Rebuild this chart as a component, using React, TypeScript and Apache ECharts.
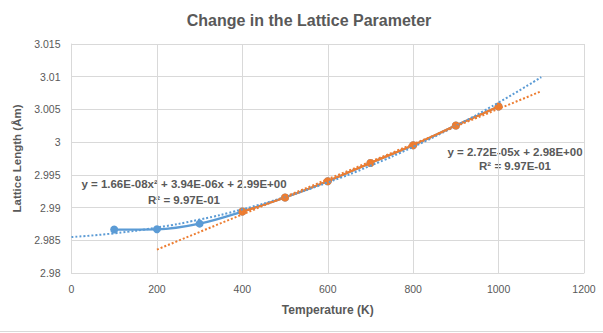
import React, { useEffect, useRef } from "react";
import * as echarts from "echarts";

// Data
const temperatures = [100, 200, 300, 400, 500, 600, 700, 800, 900, 1000];
const latticeAll = [2.98664, 2.98668, 2.98755, 2.98939, 2.99153, 2.99402, 2.99682, 2.99953, 3.00254, 3.00544];
const highTemps = [400, 500, 600, 700, 800, 900, 1000];
const latticeHigh = [2.98939, 2.99153, 2.99402, 2.99682, 2.99953, 3.00254, 3.00544];

// Trendlines
const polyTrendX = [0, 100, 200, 300, 400, 500, 600, 700, 800, 900, 1000, 1100];
const polyTrendY = [2.9855, 2.98606, 2.98695, 2.98817, 2.98973, 2.99162, 2.99384, 2.99639, 2.99928, 3.0025, 3.00605, 3.00993];
const linTrendX = [200, 1100];
const linTrendY = [2.98358, 3.00778];

const polyEquation = "y = 1.66E-08x² + 3.94E-06x + 2.99E+00";
const polyR2 = "R² = 9.97E-01";
const linEquation = "y = 2.72E-05x + 2.98E+00";
const linR2 = "R² = 9.97E-01";

const xTicks = { min: 0, max: 1200, interval: 200 };
const yTicks = { min: 2.98, max: 3.015, interval: 0.005 };

const BLUE = "#5B9BD5";
const ORANGE = "#ED7D31";
const TEXT = "#595959";
const GRID = "#D9D9D9";
const FONT = "'Liberation Sans', Arial, sans-serif";

export default function App() {
  const ref = useRef<HTMLDivElement>(null);

  useEffect(() => {
    if (!ref.current) return;
    const chart = echarts.init(ref.current, null, { renderer: "svg" });
    const zip = (xs: number[], ys: number[]) => xs.map((x, i) => [x, ys[i]]);
    chart.setOption({
      animation: false,
      backgroundColor: "#ffffff",
      textStyle: { fontFamily: FONT },
      title: {
        text: "Change in the Lattice Parameter",
        left: 304,
        top: 7,
        textAlign: "center",
        textStyle: { color: TEXT, fontSize: 16, fontWeight: "bold", fontFamily: FONT },
      },
      grid: { left: 71.5, right: 19, top: 44, bottom: 60, containLabel: false },
      xAxis: {
        type: "value",
        min: xTicks.min,
        max: xTicks.max,
        interval: xTicks.interval,
        name: "Temperature (K)",
        nameLocation: "middle",
        nameGap: 31,
        nameTextStyle: { color: TEXT, fontSize: 12, fontWeight: "bold", fontFamily: FONT },
        axisLine: { show: true, lineStyle: { color: GRID, width: 1 } },
        axisTick: { show: false },
        axisLabel: {
          color: TEXT,
          fontSize: 10.5,
          margin: 10,
          fontFamily: FONT,
          formatter: (v: number) => String(v),
        },
        splitLine: { show: true, lineStyle: { color: GRID, width: 1 } },
      },
      yAxis: {
        type: "value",
        min: yTicks.min,
        max: yTicks.max,
        interval: yTicks.interval,
        name: "Lattice Length (Åm)",
        nameLocation: "middle",
        nameGap: 48,
        nameRotate: 90,
        nameTextStyle: { color: TEXT, fontSize: 11.5, fontWeight: "bold", fontFamily: FONT },
        axisLine: { show: true, lineStyle: { color: GRID, width: 1 } },
        axisTick: { show: false },
        axisLabel: {
          color: TEXT,
          fontSize: 10.5,
          margin: 11,
          fontFamily: FONT,
          formatter: (v: number) => String(parseFloat(v.toFixed(3))),
        },
        splitLine: { show: true, lineStyle: { color: GRID, width: 1 } },
      },
      series: [
        {
          name: "All",
          type: "line",
          data: zip(temperatures, latticeAll),
          smooth: 0.35,
          symbol: "circle",
          symbolSize: 8,
          itemStyle: { color: BLUE },
          lineStyle: { color: BLUE, width: 2.25 },
          z: 2,
        },
        {
          name: "High",
          type: "line",
          data: zip(highTemps, latticeHigh),
          smooth: 0.35,
          symbol: "circle",
          symbolSize: 8,
          itemStyle: { color: ORANGE },
          lineStyle: { color: ORANGE, width: 2.25 },
          z: 3,
        },
        {
          name: "Poly trend",
          type: "line",
          data: zip(polyTrendX, polyTrendY),
          smooth: true,
          symbol: "none",
          lineStyle: { color: BLUE, width: 2, type: [2, 2], cap: "butt" },
          z: 4,
        },
        {
          name: "Linear trend",
          type: "line",
          data: zip(linTrendX, linTrendY),
          symbol: "none",
          lineStyle: { color: ORANGE, width: 2, type: [2, 2], cap: "butt" },
          z: 4,
        },
      ],
      graphic: [
        {
          type: "text",
          x: 184,
          y: 184,
          style: { text: polyEquation, fill: TEXT, font: `bold 11.5px ${FONT}`, textAlign: "center", textVerticalAlign: "middle" },
        },
        {
          type: "text",
          x: 184,
          y: 200,
          style: { text: polyR2, fill: TEXT, font: `bold 11.5px ${FONT}`, textAlign: "center", textVerticalAlign: "middle" },
        },
        {
          type: "text",
          x: 515,
          y: 152,
          style: { text: linEquation, fill: TEXT, font: `bold 11.5px ${FONT}`, textAlign: "center", textVerticalAlign: "middle" },
        },
        {
          type: "text",
          x: 515,
          y: 166,
          style: { text: linR2, fill: TEXT, font: `bold 11.5px ${FONT}`, textAlign: "center", textVerticalAlign: "middle" },
        },
        {
          type: "line",
          shape: { x1: 0, y1: 331.5, x2: 603, y2: 331.5 },
          style: { stroke: GRID, lineWidth: 1 },
        },
      ],
    });
    return () => chart.dispose();
  }, []);

  return (
    <div
      ref={ref}
      style={{ position: "absolute", left: 0, top: 0, width: 603, height: 333 }}
    />
  );
}
